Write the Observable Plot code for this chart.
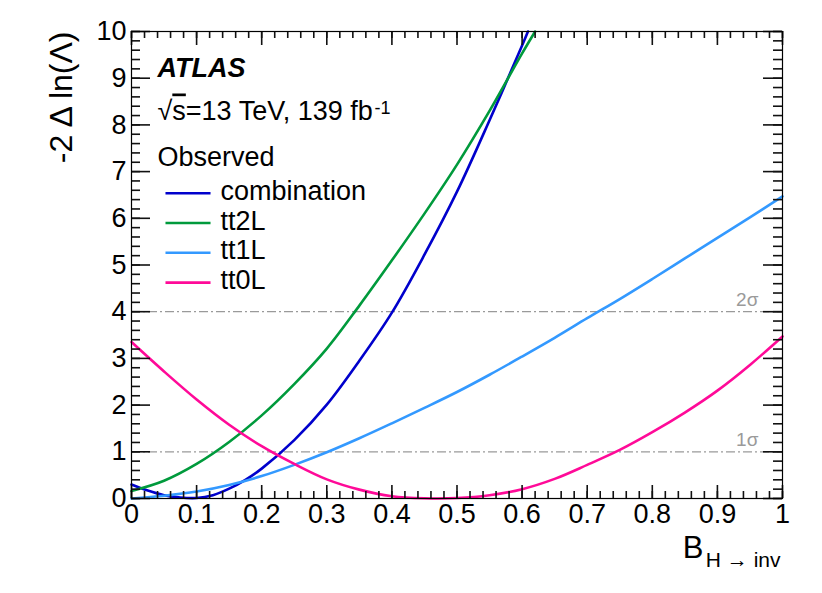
<!DOCTYPE html>
<html>
<head>
<meta charset="utf-8">
<script src="https://cdn.jsdelivr.net/npm/d3@7"></script>
<script src="https://cdn.jsdelivr.net/npm/@observablehq/plot@0.6"></script>
<style>
  html, body { margin: 0; padding: 0; background: #fff; }
  #chart { width: 822px; height: 593px; }
</style>
</head>
<body>
<div id="chart"></div>
<script>
// ---- data ----
const combX = [0, 0.025, 0.05, 0.075, 0.1, 0.125, 0.15, 0.175, 0.2, 0.25, 0.3, 0.35, 0.4, 0.45, 0.5, 0.55, 0.6, 0.609];
const combY = [0.30, 0.17, 0.07, 0.02, 0.01, 0.07, 0.21, 0.40, 0.64, 1.25, 2.01, 2.95, 3.98, 5.22, 6.57, 8.1, 9.7, 10.0];

const tt2LX = [0, 0.05, 0.1, 0.15, 0.2, 0.25, 0.3, 0.35, 0.4, 0.45, 0.5, 0.55, 0.6, 0.62];
const tt2LY = [0.16, 0.38, 0.74, 1.21, 1.78, 2.45, 3.21, 4.13, 5.10, 6.10, 7.15, 8.30, 9.53, 10.0];

const tt1LX = [0, 0.05, 0.1, 0.15, 0.2, 0.25, 0.3, 0.35, 0.4, 0.45, 0.5, 0.55, 0.6, 0.65, 0.7, 0.75, 0.8, 0.85, 0.9, 0.95, 1.0];
const tt1LY = [0, 0.06, 0.15, 0.29, 0.48, 0.72, 0.99, 1.29, 1.61, 1.94, 2.28, 2.65, 3.04, 3.44, 3.86, 4.27, 4.70, 5.14, 5.58, 6.02, 6.47];

const tt0LX = [0, 0.05, 0.1, 0.15, 0.2, 0.25, 0.3, 0.35, 0.4, 0.45, 0.5, 0.55, 0.6, 0.65, 0.7, 0.75, 0.8, 0.85, 0.9, 0.95, 1.0];
const tt0LY = [3.35, 2.72, 2.12, 1.58, 1.12, 0.74, 0.41, 0.19, 0.05, 0.005, 0.01, 0.07, 0.20, 0.42, 0.72, 1.04, 1.42, 1.84, 2.31, 2.86, 3.47];

const seriesNames = ["combination", "tt2L", "tt1L", "tt0L"];
const seriesColors = ["#0000cc", "#009a3c", "#3399ff", "#ff0a98"];
const seriesXs = [combX, tt2LX, tt1LX, tt0LX];
const seriesYs = [combY, tt2LY, tt1LY, tt0LY];

const sigmaLevels = [1, 4];
const sigmaLabels = ["1σ", "2σ"];

const xTicks = [0, 0.1, 0.2, 0.3, 0.4, 0.5, 0.6, 0.7, 0.8, 0.9, 1];
const xTickLabels = ["0", "0.1", "0.2", "0.3", "0.4", "0.5", "0.6", "0.7", "0.8", "0.9", "1"];
const yTicks = [0, 1, 2, 3, 4, 5, 6, 7, 8, 9, 10];
const yTickLabels = ["0", "1", "2", "3", "4", "5", "6", "7", "8", "9", "10"];
const xMinor = d3.range(0, 51).map(i => i / 50);
const yMinor = d3.range(0, 51).map(i => i / 5);

// ---- layout ----
const W = 822, H = 593;
const mL = 131, mR = 40, mT = 31, mB = 95;
const frameW = W - mL - mR, frameH = H - mT - mB;
const xDom = [0, 1], yDom = [0, 10];

// ---- marks ----
const font = "'Liberation Sans', Arial, Helvetica, sans-serif";
const marks = [];

// sigma reference lines
marks.push(Plot.ruleY(sigmaLevels, {stroke: "#9a9a9a", strokeWidth: 1.2, strokeDasharray: "9,3,2,3"}));
marks.push(Plot.text(sigmaLevels, {
  x: () => 0.963, y: d => d, text: (d, i) => sigmaLabels[i],
  textAnchor: "end", lineAnchor: "bottom", dy: -6, fill: "#9a9a9a", fontSize: 19
}));

// curves
seriesNames.forEach((name, k) => {
  const rows = seriesXs[k].map((x, i) => ({x, y: seriesYs[k][i]}));
  marks.push(Plot.line(rows, {x: "x", y: "y", stroke: seriesColors[k], strokeWidth: 2.6, curve: "catmull-rom"}));
});

// ROOT-style inward ticks on all four sides (tick marks spanning the frame, shortened by insets)
const tk = {stroke: "#111", strokeWidth: 1.6, strokeOpacity: 1};
marks.push(Plot.tickX(xTicks, {x: d => d, insetTop: frameH - 13, ...tk}));
marks.push(Plot.tickX(xMinor, {x: d => d, insetTop: frameH - 7, ...tk}));
marks.push(Plot.tickX(xTicks, {x: d => d, insetBottom: frameH - 14, ...tk}));
marks.push(Plot.tickX(xMinor, {x: d => d, insetBottom: frameH - 7, ...tk}));
marks.push(Plot.tickY(yTicks, {y: d => d, insetRight: frameW - 19, ...tk}));
marks.push(Plot.tickY(yMinor, {y: d => d, insetRight: frameW - 9, ...tk}));
marks.push(Plot.tickY(yTicks, {y: d => d, insetLeft: frameW - 19, ...tk}));
marks.push(Plot.tickY(yMinor, {y: d => d, insetLeft: frameW - 9, ...tk}));
marks.push(Plot.frame({stroke: "black", strokeWidth: 1.2}));

// tick labels
marks.push(Plot.axisX(xTicks, {anchor: "bottom", tickSize: 0, tickPadding: 5, tickFormat: (d, i) => xTickLabels[i], fontSize: 27, label: null}));
marks.push(Plot.axisY(yTicks, {anchor: "left", tickSize: 0, tickPadding: 5, tickFormat: (d, i) => yTickLabels[i], fontSize: 27, label: null}));

// axis titles
marks.push(Plot.text(["-2 Δ ln(Λ)"], {frameAnchor: "top-left", text: d => d, rotate: -90, textAnchor: "end", lineAnchor: "middle", dx: -70, dy: 0, fontSize: 32}));
marks.push(Plot.text(["B"], {frameAnchor: "top-left", text: d => d, textAnchor: "end", lineAnchor: "bottom", dx: 572, dy: 526, fontSize: 31}));
marks.push(Plot.text(["H → inv"], {frameAnchor: "top-left", text: d => d, textAnchor: "end", lineAnchor: "bottom", dx: 649, dy: 535, fontSize: 21}));

// ATLAS label and info
marks.push(Plot.text(["ATLAS"], {frameAnchor: "top-left", text: d => d, textAnchor: "start", lineAnchor: "bottom", dx: 26, dy: 45.7, fontSize: 27, fontWeight: "bold", fontStyle: "italic"}));
marks.push(Plot.text(["√s=13 TeV, 139 fb"], {frameAnchor: "top-left", text: d => d, textAnchor: "start", lineAnchor: "bottom", dx: 26, dy: 88, fontSize: 27}));
marks.push(Plot.text(["-1"], {frameAnchor: "top-left", text: d => d, textAnchor: "start", lineAnchor: "bottom", dx: 243, dy: 82, fontSize: 18}));
marks.push(Plot.text(["Observed"], {frameAnchor: "top-left", text: d => d, textAnchor: "start", lineAnchor: "bottom", dx: 26, dy: 134.7, fontSize: 27}));

// legend
const legX1 = 0.0522, legX2 = 0.1214, legY0 = 6.537, legDy = 0.638;
seriesNames.forEach((name, k) => {
  marks.push(Plot.link([name], {x1: () => legX1, x2: () => legX2, y1: () => legY0 - k * legDy, y2: () => legY0 - k * legDy, stroke: seriesColors[k], strokeWidth: 2.6}));
  marks.push(Plot.text([name], {frameAnchor: "top-left", text: d => d, textAnchor: "start", lineAnchor: "bottom", dx: 89, dy: 168.3 + k * 29.8, fontSize: 27}));
});

const svg = Plot.plot({
  width: W,
  height: H,
  marginLeft: mL,
  marginRight: mR,
  marginTop: mT,
  marginBottom: mB,
  x: {domain: xDom, label: null},
  y: {domain: yDom, label: null},
  style: {fontFamily: font, fontSize: "27px", color: "black", background: "white", overflow: "visible"},
  marks
});

// sqrt bar over "s"
d3.select(svg).selectAll("text").each(function () {
  if (this.textContent === "√s=13 TeV, 139 fb") {
    const t = d3.select(this);
    t.text(null);
    t.append("tspan").text("√");
    t.append("tspan").attr("text-decoration", "overline").text("s");
    t.append("tspan").text("=13 TeV, 139 fb");
  }
});

document.getElementById("chart").appendChild(svg);
</script>
</body>
</html>
